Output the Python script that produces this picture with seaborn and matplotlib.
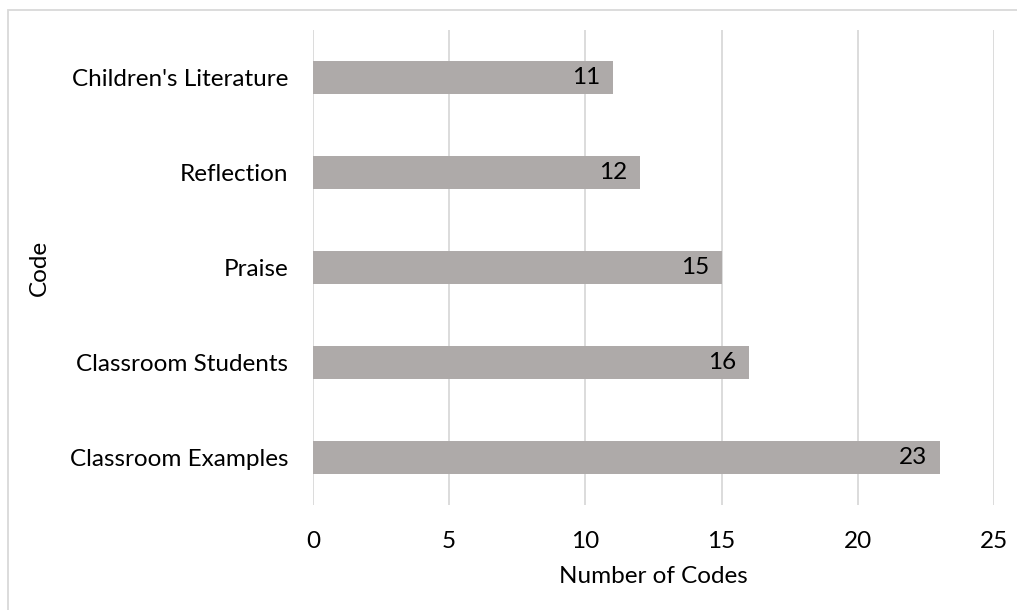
import matplotlib
matplotlib.use("Agg")
import matplotlib.pyplot as plt
import seaborn as sns
import pandas as pd
from matplotlib.patches import Rectangle

categories = ["Children's Literature", "Reflection", "Praise", "Classroom Students", "Classroom Examples"]
values = [11, 12, 15, 16, 23]
xticks = [0, 5, 10, 15, 20, 25]

sns.set_theme(style="white")
plt.rcParams['font.family'] = ['Lato', 'DejaVu Sans']
FS = 17.5

df = pd.DataFrame({"Code": categories, "Count": values})

fig = plt.figure(figsize=(10.17, 6.10), dpi=100)
ax = fig.add_axes([313/1017, 1-505/610, (994-313)/1017, (505-30)/610])

sns.barplot(data=df, y="Code", x="Count", order=categories, color="#aeaaa9",
            width=0.35, ax=ax, saturation=1, edgecolor="none")

ax.set_xlim(0, 25)
ax.set_ylim(4.5, -0.5)
ax.set_xticks(xticks)
ax.set_xticklabels([str(t) for t in xticks], fontsize=FS, color="#000000")
ax.tick_params(axis='y', labelsize=FS, colors="#000000", pad=18, length=0)
ax.tick_params(axis='x', pad=19, length=0)
ax.xaxis.grid(True, color="#d9d9d9", linewidth=1.3)
ax.set_axisbelow(True)
for s in ax.spines.values():
    s.set_visible(False)

ax.set_xlabel("Number of Codes", fontsize=FS, color="#000000", labelpad=10)
ax.set_ylabel("Code", fontsize=FS, color="#000000", labelpad=14)

for i, v in enumerate(values):
    ax.annotate(str(v), xy=(v, i), xytext=(-9, 0), textcoords="offset points",
                ha="right", va="center", fontsize=FS, color="#000000")

fig.patches.append(Rectangle((8/1017, -0.1), 1.2, 1 - 10/610 + 0.1, transform=fig.transFigure,
                             fill=False, edgecolor="#d9d9d9", linewidth=1.3))

fig.savefig("out.png", dpi=100)
